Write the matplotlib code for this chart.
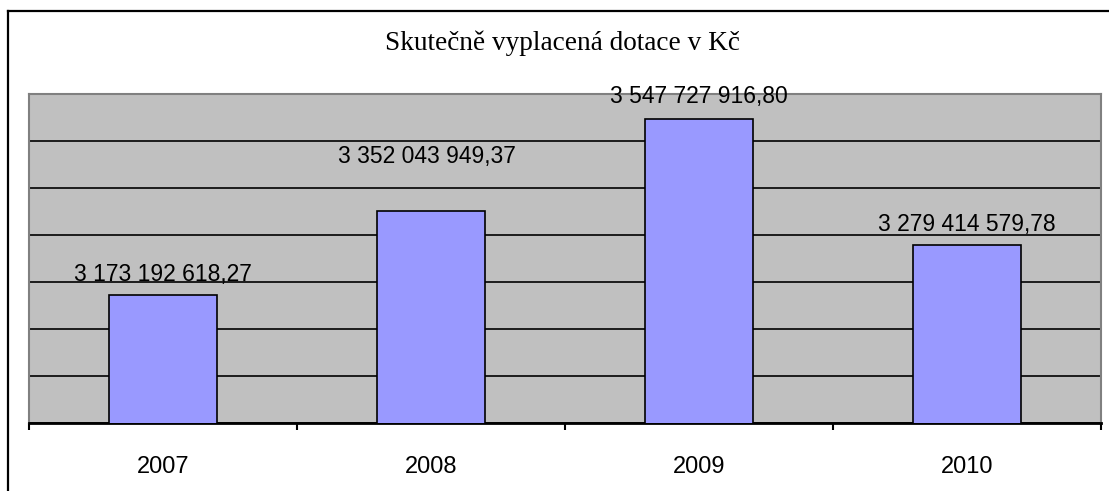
import numpy as np
from matplotlib import pyplot as plt
from matplotlib import lines

# chart data
years = ['2007', '2008', '2009', '2010']
values = [3173192618.27, 3352043949.37, 3547727916.80, 3279414579.78]
title = 'Skutečně vyplacená dotace v Kč'

# y axis scale (hidden labels, gridlines every 100 mil.)
y_min, y_max, y_step = 2.9e9, 3.6e9, 0.1e9

# label offsets from bar top in points (the 2008 one was moved up by hand in the original)
label_offsets = [(0, 10), (-3, 34), (0, 11.5), (0, 9.5)]

W, H = 1109, 491

def fmt_cz(v):
    # czech number format: space as thousands separator, comma as decimal
    return f'{v:,.2f}'.replace(',', ' ').replace('.', ',')

def main():
    fig = plt.figure(figsize=(W / 100, H / 100), dpi=100)
    fig.patch.set_facecolor('white')

    # plot area in pixel coords -> figure fractions
    left, right, top, bottom = 29, 1101, 94, 423
    ax = fig.add_axes([left / W, 1 - bottom / H, (right - left) / W, (bottom - top) / H])
    ax.set_facecolor('#C0C0C0')

    x = np.arange(len(years))
    ax.bar(x, values, width=0.4, color='#9999FF', edgecolor='black', linewidth=1.2, zorder=3)

    ax.set_xlim(-0.5, len(years) - 0.5)
    ax.set_ylim(y_min, y_max)

    # horizontal gridlines
    ax.set_yticks(np.arange(y_min, y_max + y_step / 2, y_step))
    ax.yaxis.grid(True, color='black', linewidth=1.2, zorder=1)
    ax.set_axisbelow(True)
    ax.tick_params(axis='y', left=False, labelleft=False)

    # category labels and boundary ticks
    ax.set_xticks(x)
    ax.set_xticklabels(years, fontsize=17, family='Liberation Sans')
    ax.tick_params(axis='x', which='major', length=0, pad=24)
    ax.set_xticks(np.arange(-0.5, len(years)), minor=True)
    ax.tick_params(axis='x', which='minor', length=5, width=1.5, color='black', direction='out')

    for s in ['top', 'left', 'right']:
        ax.spines[s].set_color('#808080')
        ax.spines[s].set_linewidth(1.5)
    ax.spines['bottom'].set_color('black')
    ax.spines['bottom'].set_linewidth(2)

    # value labels above bars
    for xi, v, off in zip(x, values, label_offsets):
        ax.annotate(fmt_cz(v), (xi, v), xytext=off, textcoords='offset points',
                    ha='center', va='baseline', fontsize=16.5, family='Liberation Sans',
                    zorder=4, annotation_clip=False)

    # title
    fig.text(562 / W, 1 - 43 / H, title, ha='center', va='center',
             fontsize=19.6, family='Liberation Serif')

    # outer chart frame (cut off on right and bottom)
    fig.add_artist(lines.Line2D([8 / W, 1.0], [1 - 11 / H, 1 - 11 / H], color='black', linewidth=1.6))
    fig.add_artist(lines.Line2D([8 / W, 8 / W], [0.0, 1 - 11 / H], color='black', linewidth=1.6))

    fig.savefig('out.png', dpi=100)

if __name__ == '__main__':
    main()
